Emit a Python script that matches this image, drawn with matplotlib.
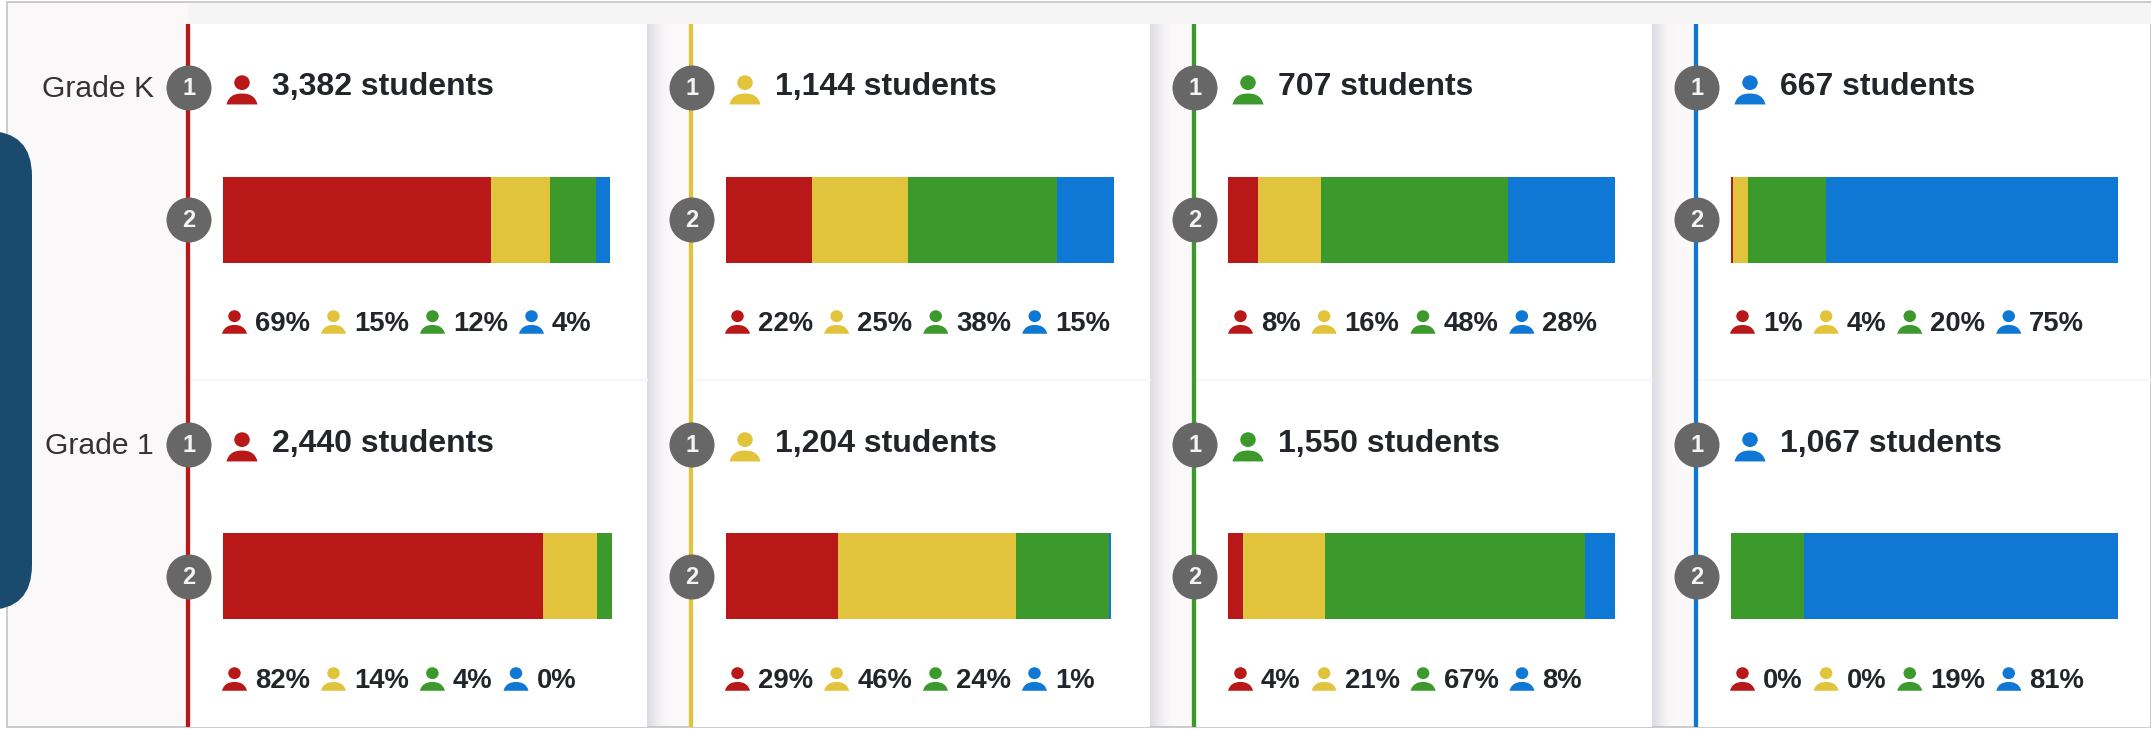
import numpy as np
import matplotlib
matplotlib.use('Agg')
import matplotlib.pyplot as plt
from matplotlib.patches import Circle, Ellipse, PathPatch, FancyBboxPatch, Rectangle
from matplotlib.path import Path

plt.rcParams['font.family'] = ['Liberation Sans', 'DejaVu Sans']

# Datos
grades = ['Grade K', 'Grade 1']
totals_k = ['3,382', '1,144', '707', '667']
totals_1 = ['2,440', '1,204', '1,550', '1,067']
pct_k = [[69, 15, 12, 4], [22, 25, 38, 15], [8, 16, 48, 28], [1, 4, 20, 75]]
pct_1 = [[82, 14, 4, 0], [29, 46, 24, 1], [4, 21, 67, 8], [0, 0, 19, 81]]
# largo de cada segmento
seg_k = [[268, 58.5, 46, 14.5], [85.5, 96.5, 148.5, 57.5], [30, 63, 187, 107], [2, 15, 77.6, 292]]
seg_1 = [[320, 54, 15, 0], [111.7, 178.3, 92.5, 2], [15, 82, 260, 30], [0, 0, 73, 314]]
colors = ['#b91818', '#e2c43c', '#3c9a2c', '#0f78d4']

# Posiciones (px)
line_x = [188, 691, 1194, 1696]
bar_x = [223, 726, 1228, 1731]
row_head_y = [87, 444]
row_bar_y = [219.5, 576]
row_pct_y = [324, 681]
row_circle_y = [(88, 220), (445, 577)]
bar_h = 86
dark = '#22252a'

fig = plt.figure(figsize=(21.51, 7.29), dpi=100)
ax = fig.add_axes([0, 0, 1, 1])
ax.set_xlim(0, 2151)
ax.set_ylim(729, 0)
ax.axis('off')


def person(cx, y0, w, col):
    # icono de persona: cabeza + hombros
    h = w * 0.95
    ax.add_patch(Ellipse((cx, y0 + h * 0.26), w * 0.5, h * 0.5, color=col, lw=0, zorder=5))
    bx, bt, bb = w / 2, y0 + h * 0.63, y0 + h
    verts = [(cx - bx, bb), (cx - bx * 0.85, bt + 2), (cx - bx * 0.45, bt), (cx, bt),
             (cx + bx * 0.45, bt), (cx + bx * 0.85, bt + 2), (cx + bx, bb), (cx - bx, bb)]
    codes = [Path.MOVETO, Path.CURVE4, Path.CURVE4, Path.CURVE4,
             Path.CURVE4, Path.CURVE4, Path.CURVE4, Path.CLOSEPOLY]
    ax.add_patch(PathPatch(Path(verts, codes), color=col, lw=0, zorder=5))


# Fondo
ax.add_patch(Rectangle((7, 1.5), 2144, 725.5, fc='#faf8f9', ec='#c4c4c4', lw=1.2, zorder=0))
ax.add_patch(Rectangle((188, 3), 1963, 21, fc='#f5f5f5', lw=0, zorder=0.5))
ax.add_patch(FancyBboxPatch((-60, 131), 92, 479, boxstyle='round,pad=0,rounding_size=45', fc='#1a4a6e', lw=0, zorder=1))

# Tarjetas
for i, x in enumerate(line_x):
    right = line_x[i + 1] - 44 if i < 3 else 2150
    ax.add_patch(Rectangle((x, 24), right - x, 703, fc='white', lw=0, zorder=1))
    ax.plot([x + 2, right], [380, 380], color='#f7f7f7', lw=1.5, zorder=1.5)
    if i < 3:
        # sombra
        for k in range(22):
            ax.add_patch(Rectangle((right + k, 24), 1, 703, fc='#b8b8c4', alpha=0.45 * (1 - k / 22) ** 1.6, lw=0, zorder=1))
    ax.plot([x, x], [24, 727], color=colors[i], lw=3.1, solid_capstyle='butt', zorder=2)

fig.canvas.draw()
rend = fig.canvas.get_renderer()

for r, (grade, totals, pcts, segs) in enumerate(zip(grades, [totals_k, totals_1], [pct_k, pct_1], [seg_k, seg_1])):
    ax.text(154, row_head_y[r] + 2, grade, ha='right', va='center', fontsize=21.7, color='#333333', zorder=6)
    for c, x in enumerate(line_x):
        # circulos numerados
        for n, cy in enumerate(row_circle_y[r]):
            ax.add_patch(Circle((x + 1, cy), 22.5, fc='#676767', lw=0, zorder=4))
            ax.text(x + 1, cy, str(n + 1), ha='center', va='center', fontsize=17, fontweight='bold', color='#f4f4f4', zorder=5)

        # encabezado
        person(x + 54, row_head_y[r] - 12, 31, colors[c])
        ax.text(x + 84, row_head_y[r], f'{totals[c]} students', ha='left', va='center', fontsize=23, fontweight='bold', color=dark, zorder=6)

        # barra apilada
        left = bar_x[c]
        for v, col in zip(segs[c], colors):
            if v > 0:
                ax.barh(row_bar_y[r], v, left=left, height=bar_h, color=col, lw=0, zorder=3)
            left += v

        # leyenda
        cur = x + 34
        for p, col in zip(pcts[c], colors):
            person(cur + 12.5, row_pct_y[r] - 14, 25, col)
            t = ax.text(cur + 33, row_pct_y[r], f'{p}%', ha='left', va='center', fontsize=19.8, fontweight='bold', color=dark, zorder=6)
            w = t.get_window_extent(rend).width
            cur += 33 + w + 11

fig.savefig('out.png', dpi=100)
